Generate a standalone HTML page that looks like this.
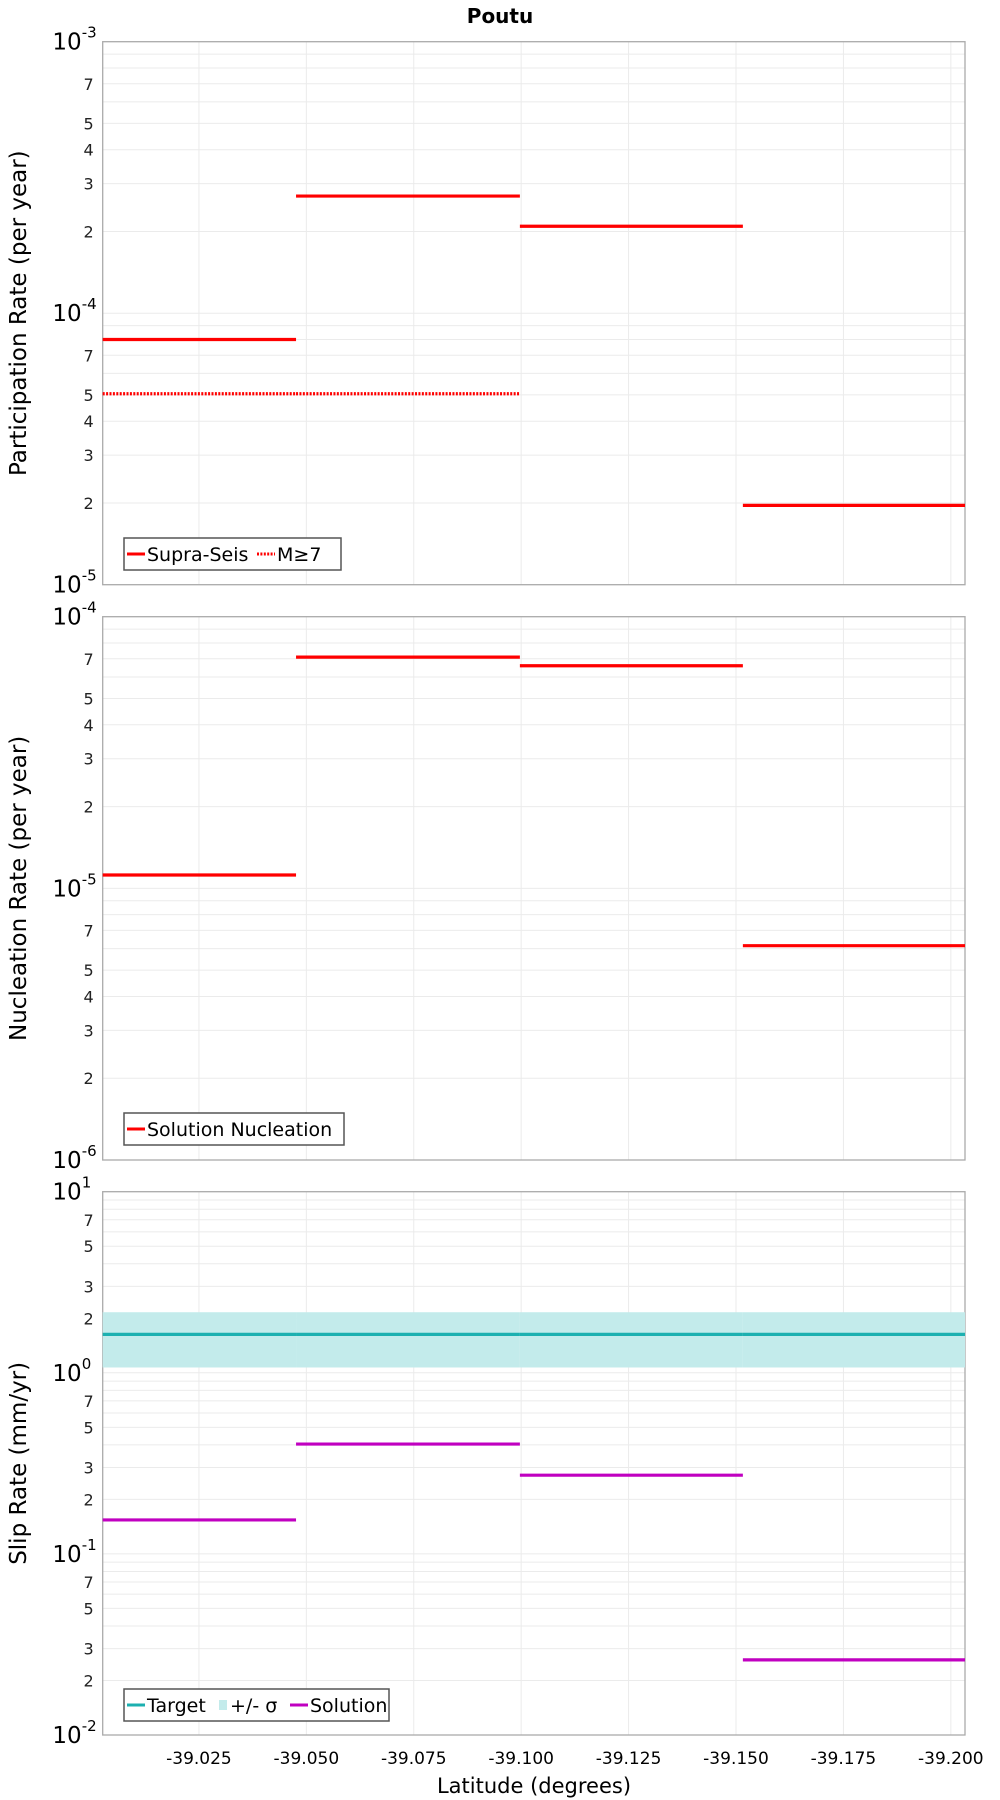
<!DOCTYPE html>
<html><head><meta charset="utf-8"><style>
html,body{margin:0;padding:0;background:#fff;}
svg{display:block;font-family:"DejaVu Sans","Liberation Sans",sans-serif;}
</style></head><body>
<svg id="chart" width="1000" height="1800" viewBox="0 0 1000 1800" xmlns="http://www.w3.org/2000/svg">
<text x="500" y="23" text-anchor="middle" font-size="20" font-weight="bold">Poutu</text>
<text x="534" y="1793" text-anchor="middle" font-size="21">Latitude (degrees)</text>
</svg>
<script>
// Section boundaries (absolute latitude, plotted as negative values)
const sectionEdges = [39.0026, 39.0476, 39.0997, 39.1516, 39.2033];
const xTickValues = [39.025, 39.050, 39.075, 39.100, 39.125, 39.150, 39.175, 39.200];
const xTickLabels = ["-39.025","-39.050","-39.075","-39.100","-39.125","-39.150","-39.175","-39.200"];
const supraSeis = [8.0e-5, 2.7e-4, 2.09e-4, 1.96e-5];
const mGe7 = [5.05e-5, 5.05e-5, null, null];
const nucleation = [1.12e-5, 7.1e-5, 6.6e-5, 6.15e-6];
const targetSlip = [1.63, 1.63, 1.63, 1.63];
const sigmaUpper = [2.16, 2.16, 2.16, 2.16];
const sigmaLower = [1.07, 1.07, 1.07, 1.07];
const solutionSlip = [0.154, 0.404, 0.272, 0.026];

const NS = "http://www.w3.org/2000/svg";
const svg = document.getElementById('chart');
const X0 = 102.7, X1 = 965;
const xDom = [39.0026, 39.2033];
function xs(v){ return X0 + (v - xDom[0])/(xDom[1]-xDom[0])*(X1-X0); }
function mk(tag, attrs, parent){
  const e = document.createElementNS(NS, tag);
  for (const k in attrs) e.setAttribute(k, attrs[k]);
  (parent||svg).appendChild(e);
  return e;
}
const panels = [
  {top:41.7, bot:584.7, lo:-5, hi:-3, title:"Participation Rate (per year)", name:"participation", minor:[2,3,4,5,7]},
  {top:616.7, bot:1160, lo:-6, hi:-4, title:"Nucleation Rate (per year)", name:"nucleation", minor:[2,3,4,5,7]},
  {top:1191.7, bot:1735, lo:-2, hi:1, title:"Slip Rate (mm/yr)", name:"slip-rate", minor:[2,3,5,7]}
];
panels.forEach(p=>{
  p.ys = v => p.bot - (Math.log10(v)-p.lo)/(p.hi-p.lo)*(p.bot-p.top);
  const g = mk('g',{});
  
  
  p.g = g;
  mk('rect',{x:X0,y:p.top,width:X1-X0,height:p.bot-p.top,fill:'#fff'},g);
  for (let d=p.lo; d<p.hi; d++){
    for (let m=1; m<10; m++){
      const v = m*Math.pow(10,d);
      const y = p.ys(v);
      if (m>1 || d>p.lo) mk('line',{x1:X0,x2:X1,y1:y,y2:y,stroke:'#ebebeb','stroke-width':1},g);
      if (p.minor.includes(m)){
        const t = mk('text',{x:X0-9,y:y+6,'text-anchor':'end','font-size':16,fill:'#222'},g);
        t.textContent = m;
      }
    }
  }
  xTickValues.forEach(v=>{
    const x = xs(v);
    mk('line',{x1:x,x2:x,y1:p.top,y2:p.bot,stroke:'#ebebeb','stroke-width':1},g);
  });
  for (let d=p.lo; d<=p.hi; d++){
    const y = p.ys(Math.pow(10,d));
    const t = mk('text',{x:X0-21,y:y+8,'text-anchor':'end','font-size':23,fill:'#000'},g);
    t.textContent = '10';
    const s = mk('text',{x:X0-21,y:y-4,'text-anchor':'start','font-size':15,fill:'#000'},g);
    s.textContent = String(d);
  }
  mk('rect',{x:X0,y:p.top,width:X1-X0,height:p.bot-p.top,fill:'none',stroke:'#aaa','stroke-width':1.3},g);
  const cy = (p.top+p.bot)/2;
  const tt = mk('text',{x:26,y:cy,'text-anchor':'middle','font-size':23,transform:`rotate(-90 26 ${cy})`},g);
  
  
  tt.textContent = p.title;
});
function segs(p, vals, color, name, dash){
  vals.forEach((v,i)=>{
    if (v==null) return;
    const y = p.ys(v);
    const l = mk('line',{x1:xs(sectionEdges[i]),x2:xs(sectionEdges[i+1]),y1:y,y2:y,stroke:color,'stroke-width':3.2},p.g);
    if (dash) l.setAttribute('stroke-dasharray', dash);
    
    
  });
}
segs(panels[0], mGe7, '#ff0000', 'm7-segment', '2,1.4');
segs(panels[0], supraSeis, '#ff0000', 'supra-seis-segment');
segs(panels[1], nucleation, '#ff0000', 'nucleation-segment');
const p3 = panels[2];
sigmaUpper.forEach((u,i)=>{
  const yU = p3.ys(u), yL = p3.ys(sigmaLower[i]);
  const r = mk('rect',{x:xs(sectionEdges[i]),y:yU,width:xs(sectionEdges[i+1])-xs(sectionEdges[i]),height:yL-yU,fill:'#c3ebeb'},p3.g);
  
  
});
segs(p3, targetSlip, '#1cb0b0', 'target-segment');
segs(p3, solutionSlip, '#c000c0', 'solution-segment');
xTickValues.forEach((v,i)=>{
  const t = mk('text',{x:xs(v),y:1764,'text-anchor':'middle','font-size':17});
  
  
  t.textContent = xTickLabels[i];
});
function legend(x,y,w,items,name){
  const g = mk('g',{});
  
  
  mk('rect',{x:x,y:y,width:w,height:32,fill:'#fff',stroke:'#555','stroke-width':1.5},g);
  let cx = x+3;
  items.forEach(it=>{
    if (it.box){
      mk('rect',{x:cx+2,y:y+11,width:8,height:10,fill:it.color},g);
      cx += 13;
    } else {
      const l = mk('line',{x1:cx,x2:cx+18,y1:y+16,y2:y+16,stroke:it.color,'stroke-width':3},g);
      if (it.dash) l.setAttribute('stroke-dasharray', it.dash);
      cx += 20;
    }
    const t = mk('text',{x:cx,y:y+23,'font-size':19},g);
    t.textContent = it.label;
    cx += it.w;
  });
}
legend(124,538,217,[{color:'#ff0000',label:'Supra-Seis',w:110},{color:'#ff0000',dash:'2,1.4',label:'M≥7',w:50}],'participation-legend');
legend(124,1113,220,[{color:'#ff0000',label:'Solution Nucleation',w:190}],'nucleation-legend');
legend(124,1689,265,[{color:'#1cb0b0',label:'Target',w:70},{box:true,color:'#c3ebeb',label:'+/- σ',w:60},{color:'#c000c0',label:'Solution',w:90}],'slip-rate-legend');
</script>
</body></html>
